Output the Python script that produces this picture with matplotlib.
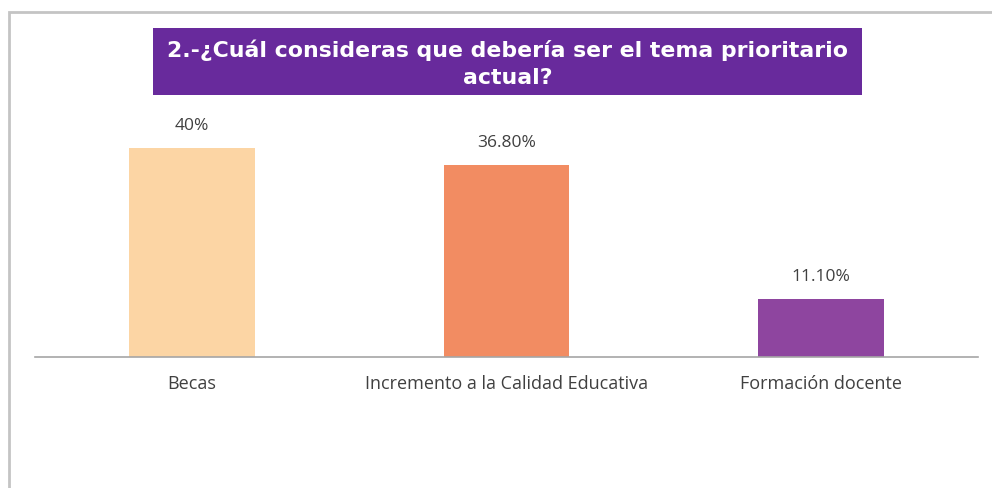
import matplotlib.pyplot as plt
from matplotlib.patches import Rectangle

categorias = ["Becas", "Incremento a la Calidad Educativa", "Formación docente"]
valores = [40, 36.8, 11.1]
etiquetas = ["40%", "36.80%", "11.10%"]
colores = ["#FCD5A4", "#F28C62", "#8E459F"]
titulo = "2.-¿Cuál consideras que debería ser el tema prioritario\nactual?"

W, H = 992, 488
fig = plt.figure(figsize=(W / 100, H / 100), dpi=100)
fig.patch.set_facecolor("white")

# marco gris
fig.patches.append(Rectangle((9 / W, -0.05), 1.1, 1 - 12 / H + 0.05,
                             transform=fig.transFigure, fill=False,
                             edgecolor="#C4C4C4", linewidth=2))

ax = fig.add_axes([35 / W, (H - 357) / H, 943 / W, 235 / H])
x = range(len(categorias))
ax.bar(x, valores, width=0.4, color=colores)
ax.set_xlim(-0.5, len(categorias) - 0.5)
ax.set_ylim(0, 45)

for i, (v, t) in enumerate(zip(valores, etiquetas)):
    ax.annotate(t, (i, v), xytext=(0, 10), textcoords="offset points",
                ha="center", va="bottom", fontsize=12.5, family="Open Sans", color="#404040")

ax.set_xticks(list(x))
ax.set_xticklabels(categorias, fontsize=13, family="Open Sans", color="#404040")
ax.tick_params(axis="x", length=0, pad=13)
ax.set_yticks([])
for s in ["top", "right", "left"]:
    ax.spines[s].set_visible(False)
ax.spines["bottom"].set_color("#A6A6A6")
ax.spines["bottom"].set_linewidth(1.2)

# caja del título
fig.patches.append(Rectangle((153 / W, 1 - 95 / H), (862 - 153) / W, 67 / H,
                             transform=fig.transFigure, facecolor="#682A9C",
                             edgecolor="none"))
fig.text((153 + 862) / 2 / W, 1 - 64 / H, titulo, ha="center", va="center",
         fontsize=15.8, fontweight="bold", family="DejaVu Sans", color="white",
         linespacing=1.45)

fig.savefig("out.png", dpi=100)
